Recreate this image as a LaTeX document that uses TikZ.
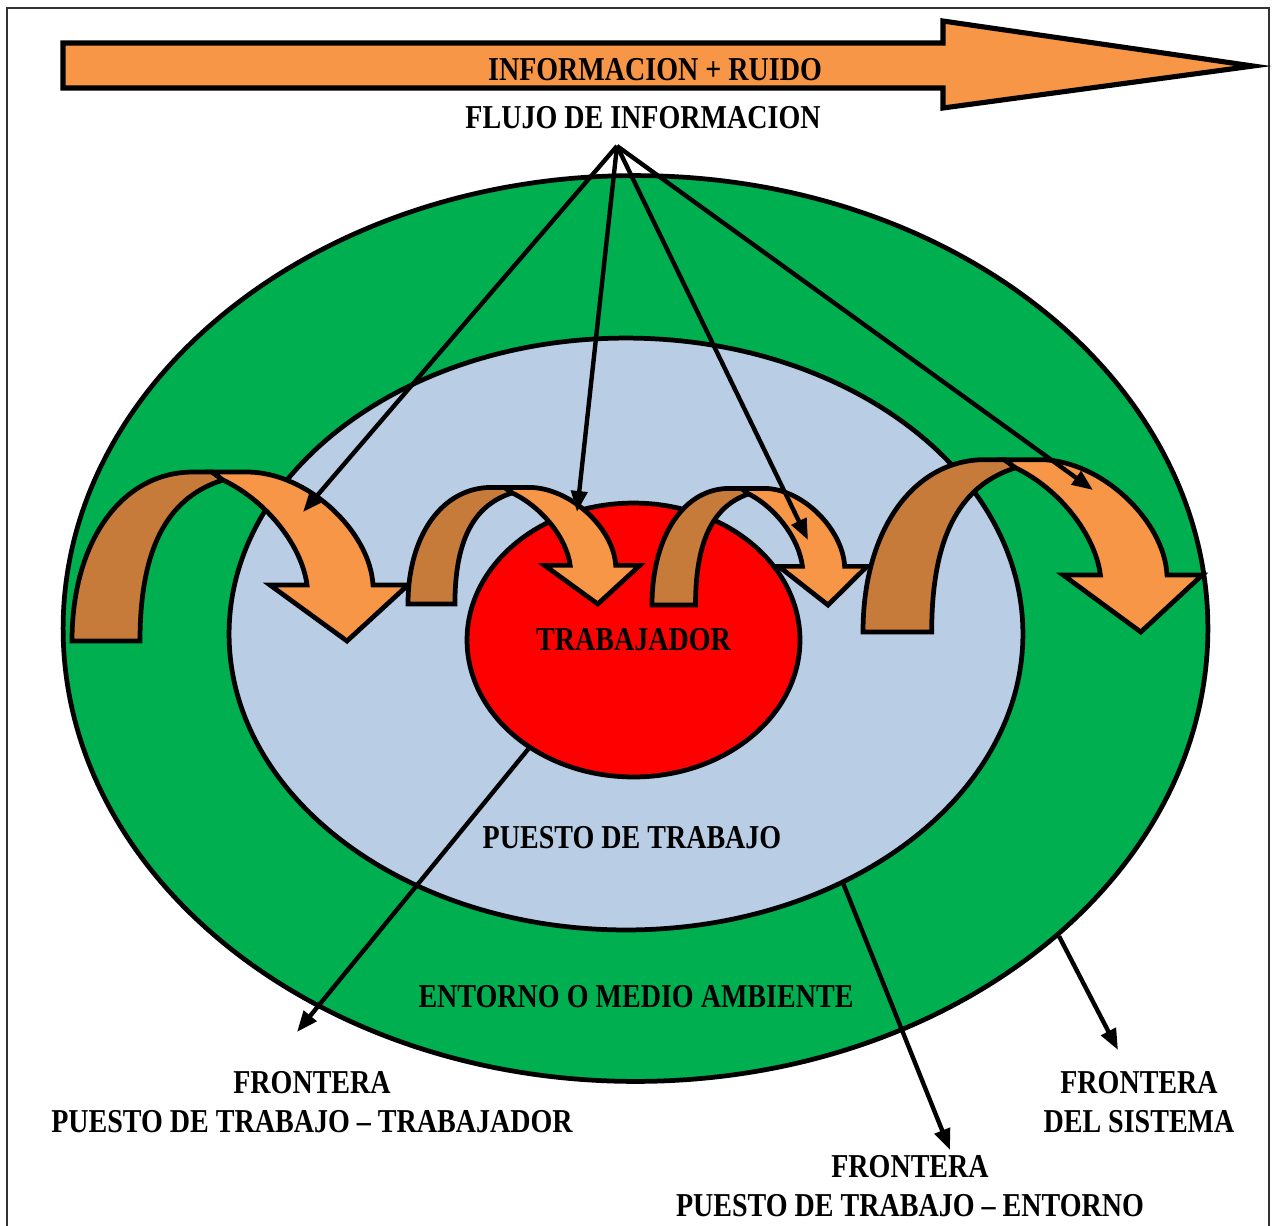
\documentclass[tikz,border=0pt]{standalone}
\usepackage{fontspec}
\newfontfamily\rotulofont[FakeStretch=0.84]{Liberation Serif}
\usepackage{tikz}
\usetikzlibrary{positioning,arrows.meta,shapes.geometric}
\definecolor{verde}{HTML}{00B050}
\definecolor{azul}{HTML}{B9CDE5}
\definecolor{rojo}{HTML}{FF0000}
\definecolor{naranja}{HTML}{F79646}
\definecolor{marron}{HTML}{C77B3A}

\begin{document}
\begin{tikzpicture}[
    x=0.02cm, y=-0.02cm,
    borde/.style={draw=black, line width=2.7pt},
    anillo/.style={ellipse, borde, inner sep=0pt},
    rotulo/.style={font=\rotulofont\bfseries\fontsize{19}{22.2}\selectfont, align=center, inner sep=0pt},
    flecha/.style={-{Triangle[length=0.42cm,width=0.32cm]}, line width=2.5pt},
    pics/curvarrow/.style={code={
        \draw[borde, fill=marron] (0,0) -- (68,0) .. controls (68,-100) and (100,-145) .. (151,-161)
            -- (140,-169) -- (121,-169) .. controls (50,-169) and (0,-100) .. (0,0) -- cycle;
        \draw[borde, fill=naranja] (140,-169) -- (175,-169) .. controls (235,-169) and (298,-110) .. (301,-56)
            -- (336,-56) -- (275,0) -- (198,-56) -- (235,-56) .. controls (230,-95) and (195,-140) .. (151,-161) -- cycle;
    }}
]
\useasboundingbox (0,0) rectangle (1273,1225);
\draw[line width=1pt, black!80] (7,8) rectangle (1269,1240);

% Flujo de informacion
\draw[line width=2.9pt, fill=naranja] (63,43) -- (943,43) -- (943,21) -- (1253,66) -- (943,108) -- (943,88) -- (63,88) -- cycle;
\node[rotulo] (ruido) at (655,70) {INFORMACION + RUIDO};
\node[rotulo] (flujo) at (643,118) {FLUJO DE INFORMACION};

% Sistema
\node[anillo, fill=verde, minimum width=22.9cm, minimum height=18.12cm] (entorno) at (635.5,628.5) {};
\node[anillo, fill=azul, minimum width=15.88cm, minimum height=11.84cm] (puesto) at (626,634) {};
\node[anillo, fill=rojo, minimum width=6.66cm, minimum height=5.48cm] (trabajador) at (633.5,640) {};
\node[rotulo] (trabtxt) at (633.5,640) {TRABAJADOR};
\node[rotulo] (puestotxt) at (632,838) {PUESTO DE TRABAJO};
\node[rotulo] (entornotxt) at (636,997) {ENTORNO O MEDIO AMBIENTE};

% Flechas curvas
\pic at (72,641) {curvarrow};
\pic[xscale=0.69, yscale=0.69] at (408,604) {curvarrow};
\pic[xscale=0.64, yscale=0.69] at (652,605) {curvarrow};
\pic[xscale=1.01, yscale=1.02] at (863,632) {curvarrow};

% Entradas de informacion
\coordinate (vertice) at (617,146);
\coordinate (ent1) at (303,512);
\coordinate (ent2) at (577,512);
\coordinate (ent3) at (808,540);
\coordinate (ent4) at (1093,490);
\draw[flecha] (vertice) -- (ent1);
\draw[flecha] (vertice) -- (ent2);
\draw[flecha] (vertice) -- (ent3);
\draw[flecha] (vertice) -- (ent4);

% Fronteras
\coordinate (fin1) at (297,1032);
\coordinate (fin2) at (950,1150);
\coordinate (fin3) at (1118,1050);
\draw[flecha] (trabajador.226) -- (fin1);
\draw[flecha] (puesto.311) -- (fin2);
\draw[flecha] (entorno.324) -- (fin3);
\node[rotulo] (fronttrab) at (312,1102) {FRONTERA\\PUESTO DE TRABAJO – TRABAJADOR};
\node[rotulo] (frontent) at (910,1186) {FRONTERA\\PUESTO DE TRABAJO – ENTORNO};
\node[rotulo] (frontsist) at (1139,1102) {FRONTERA\\DEL SISTEMA};
\end{tikzpicture}
\end{document}
